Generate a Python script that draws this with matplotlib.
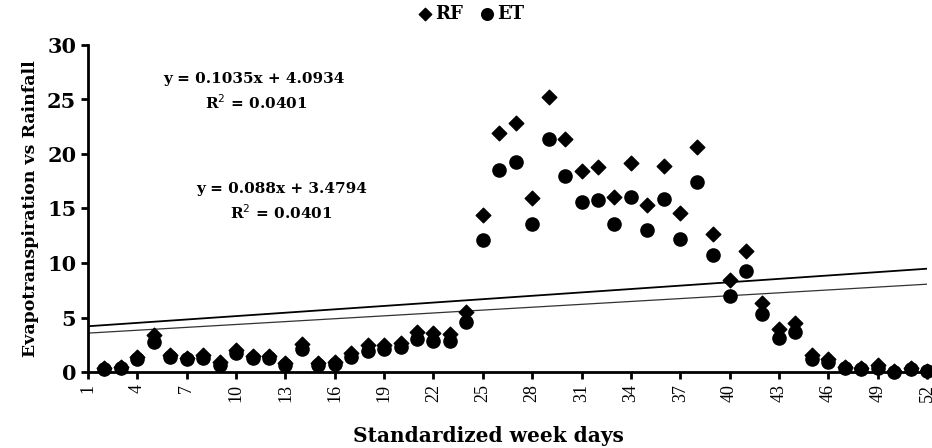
import matplotlib
matplotlib.use("Agg")
import matplotlib.pyplot as plt
import numpy as np

# weeks with observations
weeks = list(range(2, 53))

rainfall = [0.35, 0.45, 1.4, 3.4, 1.6, 1.3, 1.55, 0.9, 2.0, 1.45,
            1.45, 0.85, 2.6, 0.8, 0.95, 1.7, 2.5, 2.5, 2.7, 3.7,
            3.55, 3.45, 5.5, 14.4, 21.9, 22.8, 16.0, 25.2, 21.4, 18.4,
            18.8, 16.1, 19.2, 15.3, 18.9, 14.6, 20.6, 12.7, 8.4, 11.1,
            6.3, 3.9, 4.5, 1.6, 1.2, 0.45, 0.4, 0.6, 0.05, 0.35, 0.1]

evapotranspiration = [0.25, 0.35, 1.15, 2.75, 1.35, 1.15, 1.3, 0.65, 1.7, 1.25,
                      1.25, 0.65, 2.1, 0.6, 0.75, 1.4, 1.9, 2.1, 2.25, 3.0,
                      2.8, 2.8, 4.6, 12.1, 18.5, 19.3, 13.6, 21.4, 18.0, 15.6,
                      15.8, 13.6, 16.1, 13.0, 15.9, 12.2, 17.4, 10.7, 7.0, 9.3,
                      5.3, 3.1, 3.7, 1.2, 0.9, 0.35, 0.3, 0.4, 0.0, 0.25, 0.05]

rf_fit = (0.1035, 4.0934)
et_fit = (0.088, 3.4794)
rf_eq = ["y = 0.1035x + 4.0934", "R$^2$ = 0.0401"]
et_eq = ["y = 0.088x + 3.4794", "R$^2$ = 0.0401"]

xticks = list(range(1, 53, 3))

W, H = 932, 448
serif_bold = dict(family="DejaVu Serif", weight="bold")

fig = plt.figure(figsize=(W / 100, H / 100), dpi=100)
ax = fig.add_axes([88 / W, 76 / H, 839 / W, 327 / H])

ax.scatter(weeks, rainfall, marker="D", s=55, color="black", label="RF", zorder=3, clip_on=False)
ax.scatter(weeks, evapotranspiration, marker="o", s=90, color="black", label="ET", zorder=3, clip_on=False)

x_line = np.array([1, 52])
ax.plot(x_line, rf_fit[0] * x_line + rf_fit[1], color="black", lw=1.3, zorder=2)
ax.plot(x_line, et_fit[0] * x_line + et_fit[1], color="#333333", lw=0.9, zorder=2)


def put_text(px, py, s, size):
    fig.text(px / W, 1 - py / H, s, fontsize=size, ha="center", va="center", **serif_bold)


put_text(254, 79, rf_eq[0], 11)
put_text(256, 103, rf_eq[1], 11)
put_text(282, 189, et_eq[0], 11)
put_text(281, 213, et_eq[1], 11)

ax.set_xlim(1, 52)
ax.set_ylim(0, 30)
ax.set_xticks(xticks)
ax.set_xticklabels([str(t) for t in xticks], rotation=90, family="Liberation Serif", fontsize=13)
ax.set_yticks(range(0, 31, 5))
ax.set_yticklabels([str(t) for t in range(0, 31, 5)], fontsize=15, **serif_bold)

for side in ["top", "right"]:
    ax.spines[side].set_visible(False)
for side in ["left", "bottom"]:
    ax.spines[side].set_linewidth(2)
ax.tick_params(axis="both", direction="out", length=5, width=2)

ax.set_xlabel("Standardized week days", fontsize=14.5, **serif_bold)
ax.xaxis.set_label_coords((488 - 88) / 839, -(426 - 372) / 327)
ax.set_ylabel("Evapotranspiration vs Rainfall", fontsize=12.5, labelpad=6, **serif_bold)

fig.legend(handles=ax.collections, labels=["RF", "ET"], loc="center",
           bbox_to_anchor=(470 / W, 1 - 14 / H), ncol=2, frameon=False,
           handletextpad=0.1, columnspacing=0.8, handlelength=1.0,
           prop={"family": "DejaVu Serif", "weight": "bold", "size": 13})
leg = fig.legends[0]
leg.legend_handles[0].set_sizes([40])
leg.legend_handles[1].set_sizes([70])

fig.savefig("out.png", dpi=100)
